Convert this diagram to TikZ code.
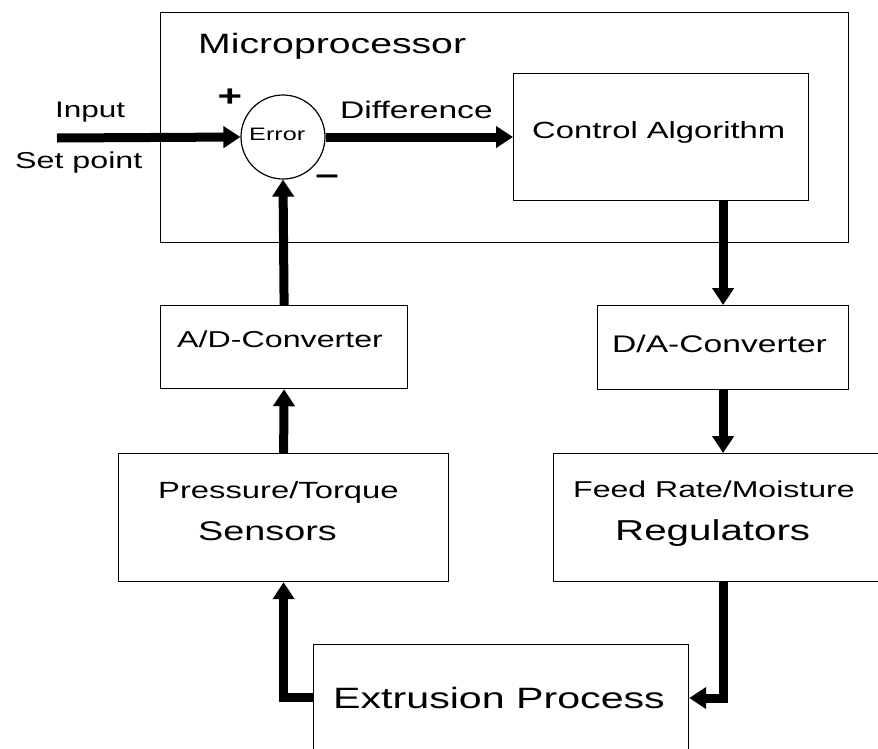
\documentclass[tikz,border=0pt]{standalone}
\usepackage{fontspec}
\setmainfont{Liberation Sans}[FakeStretch=1.4]
\usetikzlibrary{arrows.meta,calc}
\tikzset{
  box/.style={draw, line width=1.2pt, rectangle, inner sep=0pt, anchor=north west},
  flow/.style={line width=9pt, -{Triangle[width=21pt,length=17pt]}},
  tx/.style={inner sep=0pt, anchor=base west},
}
\newcommand{\fs}[1]{\fontsize{#1}{#1}\selectfont}
\begin{document}
\begin{tikzpicture}[x=1pt,y=-1pt]
\useasboundingbox (0,0) rectangle (878,748);
\clip (0,0) rectangle (878,748);
\fill[white] (0,0) rectangle (878,748);

% blocks
\node[box, minimum width=688pt, minimum height=230pt] (mp) at (160,12) {};
\node[box, minimum width=295pt, minimum height=127pt] (ctrl) at (513,73) {};
\node[draw, circle, line width=1.2pt, minimum size=84pt, inner sep=0pt] (err) at (283,137) {};
\node[box, minimum width=247pt, minimum height=83pt] (ad) at (160,305) {};
\node[box, minimum width=251pt, minimum height=84pt] (da) at (597,305) {};
\node[box, minimum width=330pt, minimum height=128pt] (sens) at (118,453) {};
\node[box, minimum width=360pt, minimum height=128pt] (feed) at (553,453) {};
\node[box, minimum width=375pt, minimum height=120pt] (ext) at (313,644) {};

% texts
\node[tx] (tmp) at (198,53) {\fs{28}Microprocessor};
\node[tx] (tin) at (55,117) {\fs{22.5}Input};
\node[tx] (tsp) at (15,168) {\fs{23}Set point};
\node[tx] (tdiff) at (340,118) {\fs{24}Difference};
\node[tx] (terr) at (249,140) {\fs{18}Error};
\node[tx] (tctrl) at (532,138) {\fs{23.4}Control Algorithm};
\node[tx] (tad) at (177,347) {\fs{23}A/D-Converter};
\node[tx] (tda) at (612,352) {\fs{24}D/A-Converter};
\node[tx] (tpt) at (158,498) {\fs{23.4}Pressure/Torque};
\node[tx] (tsens) at (198,540) {\fs{27}Sensors};
\node[tx] (tfr) at (573,497) {\fs{22.9}Feed Rate/Moisture};
\node[tx] (treg) at (615,540) {\fs{28.8}Regulators};
\node[tx] (text) at (333,708) {\fs{29.4}Extrusion Process};
\node[inner sep=0pt] (plus) at (230,98) {\fs{30}\textbf{+}};
\node[inner sep=0pt] (minus) at (327,180) {\fs{30}\textbf{–}};

% signal path
\coordinate (src) at (57,138);
\coordinate (extL) at ($(ext.north west)+(0,53)$);
\coordinate (extR) at ($(ext.north east)+(0,54)$);
\draw[flow] (src) -- (err.west);
\draw[flow] (err.east) -- (ctrl.west |- err.east);
\draw[flow] (da.north |- ctrl.south) -- (da.north);
\draw[flow] (da.south) -- (feed.north -| da.south);
\draw[flow] (feed.south -| da.south) |- (extR);
\draw[flow] (extL) -| (sens.south);
\draw[flow] (sens.north) -- (ad.south);
\draw[flow] (ad.north) -- (err.south);
\end{tikzpicture}
\end{document}
